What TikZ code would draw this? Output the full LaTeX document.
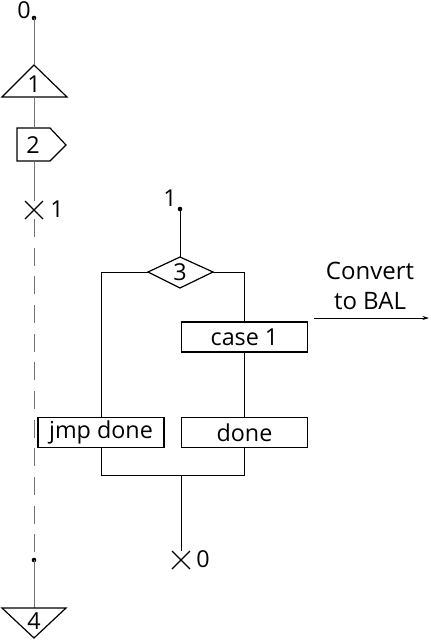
\documentclass[tikz,border=0pt]{standalone}
\usepackage{fontspec}
\setmainfont{Open Sans}
\usetikzlibrary{arrows.meta}
\begin{document}
\begin{tikzpicture}[x=0.75pt,y=-0.75pt,line width=0.75pt,
  lbl/.style={inner sep=0pt,font=\fontsize{17.5}{21}\selectfont},
  wire/.style={draw=black},
  gwire/.style={draw=black!55},
  boxs/.style={draw,line width=0.9pt,minimum width=94.5pt,minimum height=22.5pt,inner sep=0pt,font=\fontsize{17.5}{21}\selectfont},
  shp/.style={draw,line width=0.9pt}]
\useasboundingbox (0,0) rectangle (430,640);
% ---- left column ----
\coordinate (d0) at (34,18);
\coordinate (t1top) at (34,65);
\coordinate (t1bot) at (34,97);
\coordinate (p2top) at (34,128);
\coordinate (p2bot) at (34,161);
\coordinate (x1) at (34,210);
\coordinate (x1top) at (34,201);
\coordinate (dashstart) at (34,219);
\coordinate (d4) at (34,560);
\coordinate (t4top) at (34,608);
\node[lbl] (l0) at (24,10) {0};
\fill (d0) circle (2.3);
\draw[shp] (t1top) -- (2,97) -- (67,97) -- cycle;
\node[lbl] (n1) at (34,84) {1};
\draw[shp] (17,128) -- (50,128) -- (66,145) -- (50,161) -- (17,161) -- cycle;
\node[lbl] (n2) at (33,145) {2};
\draw[gwire] (d0) -- (t1top);
\draw[gwire] (t1bot) -- (p2top);
\draw[gwire] (p2bot) -- (x1top);
\draw[line width=0.9pt] (25,201) -- (43,219) (25,219) -- (43,201);
\node[lbl] (lx1) at (57,209) {1};
\draw[gwire,dash pattern=on 13.5 off 8] (dashstart) -- (d4);
\fill (d4) circle (2.3);
\draw[gwire] (d4) -- (t4top);
\draw[shp] (2,608) -- (66,608) -- (34,638) -- cycle;
\node[lbl] (n4) at (34,621) {4};
% ---- middle ----
\node[lbl] (l1) at (170,198) {1};
\coordinate (d1) at (180,209);
\fill (d1) circle (2.3);
\coordinate (dtop) at (180,257);
\coordinate (dl) at (148,272);
\coordinate (dr) at (213,272);
\draw[shp] (dtop) -- (dr) -- (180,288) -- (dl) -- cycle;
\node[lbl] (n3) at (180,272) {3};
\draw[wire] (d1) -- (dtop);
\node[boxs] (case) at (244.5,337) {case 1};
\node[boxs] (jmp) at (101,432.5) {jmp done};
\node[boxs] (done) at (244.5,432.5) {done};
\draw[wire] (dl) -- (101,272) -- (jmp.north -| 101,0);
\draw[wire] (dr) -- (244,272) -- (case.north -| 244,0);
\draw[wire] (case.south -| 244,0) -- (done.north -| 244,0);
\coordinate (join) at (181,475);
\draw[wire] (jmp.south -| 101,0) -- (101,475) -- (244,475) -- (done.south -| 244,0);
\coordinate (x0top) at (181,551);
\draw[wire] (join) -- (x0top);
\draw[line width=0.9pt] (172,551) -- (190,569) (172,569) -- (190,551);
\node[lbl] (lx0) at (203,559) {0};
% ---- arrow ----
\coordinate (a0) at (314,318);
\coordinate (a1) at (429,318);
\draw[wire,-{Stealth[length=5pt,width=3pt]}] (a0) -- (a1);
\node[lbl,align=center,font=\fontsize{18}{22.5}\selectfont] (conv) at (370,286) {Convert\\to BAL};
\end{tikzpicture}
\end{document}
